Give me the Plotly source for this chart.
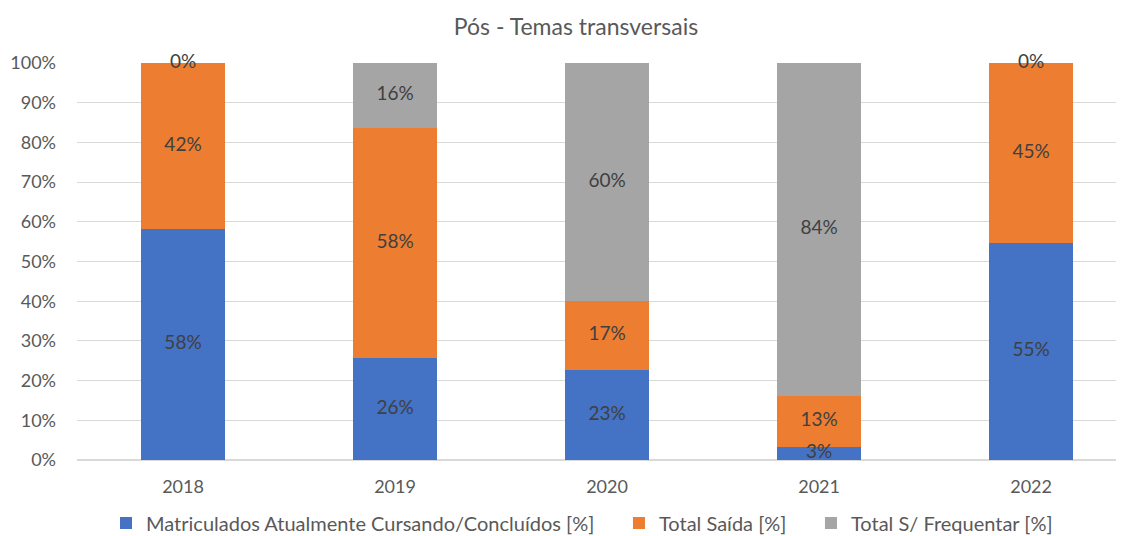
import plotly.graph_objects as go

years = ["2018", "2019", "2020", "2021", "2022"]
matriculados = [58.2, 25.7, 22.7, 3.3, 54.7]
saida = [41.8, 57.9, 17.4, 12.8, 45.3]
sem_frequentar = [0.0, 16.4, 59.9, 83.9, 0.0]

names = ["Matriculados Atualmente Cursando/Concluídos [%]", "Total Saída [%]", "Total S/ Frequentar [%]"]
colors = ["#4472C4", "#ED7D31", "#A5A5A5"]
series = [matriculados, saida, sem_frequentar]
legend_ids = ["legend", "legend2", "legend3"]
legend_x = [0.0275, 0.5137, 0.6957]

FONT = "Lato"
fig = go.Figure()
base = [0.0] * len(years)
for name, col, vals, lid in zip(names, colors, series, legend_ids):
    fig.add_trace(go.Bar(x=years, y=vals, name=name, legend=lid,
                         marker=dict(color=col, line=dict(width=0))))
    mids = [b + v / 2 for b, v in zip(base, vals)]
    fig.add_trace(go.Scatter(x=years, y=mids, mode="text", text=[f"{round(v):.0f}%" for v in vals],
                             textfont=dict(family=FONT, size=19, color="#404040"),
                             showlegend=False, hoverinfo="skip", cliponaxis=False))
    base = [b + v for b, v in zip(base, vals)]

legend_common = dict(orientation="h", xanchor="left", y=-0.159, yanchor="middle",
                     font=dict(size=20, color="#595959"), bgcolor="rgba(0,0,0,0)")

fig.update_layout(
    barmode="stack",
    bargap=0.6,
    width=1124, height=536,
    margin=dict(l=69, r=0, t=55, b=84),
    paper_bgcolor="white", plot_bgcolor="white",
    font=dict(family=FONT, size=18, color="#595959"),
    title=dict(text="Pós - Temas transversais", x=568/1124, xanchor="center", y=1 - 19/536, yanchor="middle",
               font=dict(family=FONT, size=23, color="#595959")),
    xaxis=dict(type="category", range=[-0.5, 4.476], showgrid=False, showline=False, ticks="",
               ticklabelstandoff=14, tickfont=dict(size=18, color="#595959")),
    yaxis=dict(range=[0, 100], dtick=10, ticksuffix="%", showgrid=True, gridcolor="#D9D9D9", gridwidth=1,
               zeroline=True, zerolinecolor="#D9D9D9", showline=False, ticks="",
               ticklabelstandoff=20, tickfont=dict(size=18, color="#595959")),
    legend=dict(x=legend_x[0], **legend_common),
    legend2=dict(x=legend_x[1], **legend_common),
    legend3=dict(x=legend_x[2], **legend_common),
)

fig.write_html("out.html")
